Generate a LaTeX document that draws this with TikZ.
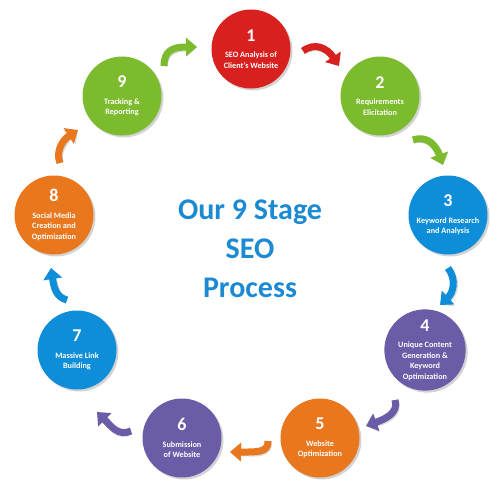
\documentclass[tikz,border=0pt]{standalone}
\usepackage{fontspec}
\setmainfont{Carlito}
\usetikzlibrary{arrows.meta,shadows}
\definecolor{cred}{RGB}{216,33,30}
\definecolor{cgreen}{RGB}{124,186,46}
\definecolor{cblue}{RGB}{14,142,216}
\definecolor{cpurple}{RGB}{108,91,166}
\definecolor{corange}{RGB}{232,119,30}
\definecolor{ctitle}{RGB}{27,138,210}
\newcommand{\stagenum}[1]{{\fontsize{18}{18}\selectfont #1}\\[6pt]}
\begin{document}
\begin{tikzpicture}[x=1pt,y=-1pt,
  stage/.style={circle, minimum size=79pt, inner sep=0pt, fill=#1, text=white,
    font=\fontsize{8.2}{10.5}\selectfont\bfseries, align=center,
    drop shadow={opacity=0.35, shadow xshift=2pt, shadow yshift=-2pt}},
  flow/.style={line width=7pt, draw=#1, line cap=butt,
    -{Triangle[width=18pt,length=11pt]}},
  flowshade/.style={line width=7pt, draw=black!25, line cap=butt,
    -{Triangle[width=18pt,length=11pt]}},
  title/.style={text=ctitle, font=\fontsize{30}{39}\selectfont\bfseries, align=center}
]
\useasboundingbox (0,0) rectangle (500,487);

% stages
\node[stage=cred]    (s1) at (251,49)  {\stagenum{1}SEO Analysis of\\Client’s Website};
\node[stage=cgreen]  (s2) at (380,96)  {\stagenum{2}Requirements\\Elicitation};
\node[stage=cblue]   (s3) at (448,215) {\stagenum{3}Keyword Research\\and Analysis};
\node[stage=cpurple] (s4) at (425,350) {\stagenum{4}Unique Content\\Generation \&\\Keyword\\Optimization};
\node[stage=corange] (s5) at (320,438) {\stagenum{5}Website\\Optimization};
\node[stage=cpurple] (s6) at (182,438) {\stagenum{6}Submission\\of Website};
\node[stage=cblue]   (s7) at (77,350)  {\stagenum{7}Massive Link\\Building};
\node[stage=corange] (s8) at (54,215)  {\stagenum{8}Social Media\\Creation and\\Optimization};
\node[stage=cgreen]  (s9) at (122,96)  {\stagenum{9}Tracking \&\\Reporting};

% title
\node[title] (t) at (250,249) {Our 9 Stage\\SEO\\Process};

% arrow end points
\coordinate (a1s) at (303,51);  \coordinate (a1e) at (339,66);
\coordinate (a2s) at (413,140); \coordinate (a2e) at (443,165);
\coordinate (a3s) at (448,268); \coordinate (a3e) at (440,305);
\coordinate (a4s) at (395,400); \coordinate (a4e) at (366,426);
\coordinate (a5s) at (268,441); \coordinate (a5e) at (230,452);
\coordinate (a6s) at (131,431); \coordinate (a6e) at (97,412);
\coordinate (a7s) at (67,300);  \coordinate (a7e) at (51,268);
\coordinate (a8s) at (60,163);  \coordinate (a8e) at (78,130);
\coordinate (a9s) at (164,66);  \coordinate (a9e) at (197,47);

% arrow shadows
\begin{scope}[shift={(1.5,1.5)}, opacity=0.6]
\draw[flowshade] (a1s) .. controls (315,42) and (327,48) .. (a1e);
\draw[flowshade] (a2s) .. controls (428,135) and (436,146) .. (a2e);
\draw[flowshade] (a3s) .. controls (457,280) and (453,293) .. (a3e);
\draw[flowshade] (a4s) .. controls (399,413) and (385,419) .. (a4e);
\draw[flowshade] (a5s) .. controls (269,453) and (255,452) .. (a5e);
\draw[flowshade] (a6s) .. controls (118,437) and (110,425) .. (a6e);
\draw[flowshade] (a7s) .. controls (56,297) and (54,288) .. (a7e);
\draw[flowshade] (a8s) .. controls (55,150) and (64,139) .. (a8e);
\draw[flowshade] (a9s) .. controls (164,51) and (172,47) .. (a9e);
\end{scope}

% arrows
\draw[flow=cred]    (a1s) .. controls (315,42) and (327,48) .. (a1e);
\draw[flow=cgreen]  (a2s) .. controls (428,135) and (436,146) .. (a2e);
\draw[flow=cblue]   (a3s) .. controls (457,280) and (453,293) .. (a3e);
\draw[flow=cpurple] (a4s) .. controls (399,413) and (385,419) .. (a4e);
\draw[flow=corange] (a5s) .. controls (269,453) and (255,452) .. (a5e);
\draw[flow=cpurple] (a6s) .. controls (118,437) and (110,425) .. (a6e);
\draw[flow=cblue]   (a7s) .. controls (56,297) and (54,288) .. (a7e);
\draw[flow=corange] (a8s) .. controls (55,150) and (64,139) .. (a8e);
\draw[flow=cgreen]  (a9s) .. controls (164,51) and (172,47) .. (a9e);
\end{tikzpicture}
\end{document}
